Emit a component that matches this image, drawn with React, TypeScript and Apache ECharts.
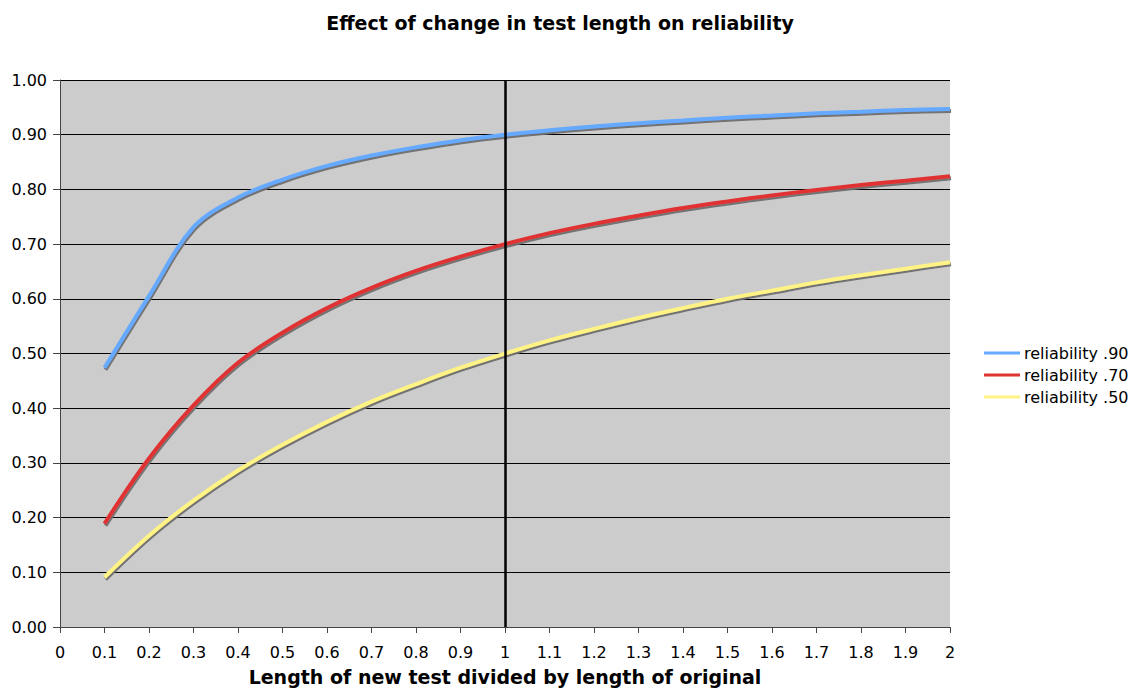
import React, { useEffect, useRef } from "react";
import * as echarts from "echarts";

const categories = ["0", "0.1", "0.2", "0.3", "0.4", "0.5", "0.6", "0.7", "0.8", "0.9", "1", "1.1", "1.2", "1.3", "1.4", "1.5", "1.6", "1.7", "1.8", "1.9", "2"];
const rel90 = [null, 0.474, 0.605, 0.731, 0.785, 0.818, 0.843, 0.862, 0.877, 0.89, 0.9, 0.908, 0.915, 0.921, 0.926, 0.931, 0.935, 0.939, 0.942, 0.945, 0.947];
const rel70 = [null, 0.189, 0.308, 0.405, 0.483, 0.538, 0.583, 0.62, 0.651, 0.677, 0.7, 0.72, 0.737, 0.752, 0.766, 0.778, 0.789, 0.799, 0.808, 0.816, 0.824];
const rel50 = [null, 0.091, 0.167, 0.231, 0.286, 0.333, 0.375, 0.412, 0.444, 0.474, 0.5, 0.524, 0.545, 0.565, 0.583, 0.6, 0.615, 0.63, 0.643, 0.655, 0.667];
const seriesNames = ["reliability .90", "reliability .70", "reliability .50"];
const seriesColors = ["#66AAFF", "#E03333", "#FFF385"];
const markerCategory = "1";

const FONT = "'DejaVu Sans', Verdana, sans-serif";

export default function App() {
  const ref = useRef<HTMLDivElement>(null);
  useEffect(() => {
    const chart = echarts.init(ref.current!, null, { renderer: "svg" });
    const datasets = [rel90, rel70, rel50];
    const series: any[] = datasets.map((d, i) => ({
      name: seriesNames[i],
      type: "line",
      data: d,
      smooth: 0.35,
      showSymbol: false,
      symbol: "none",
      connectNulls: false,
      z: 5 - i,
      lineStyle: {
        color: seriesColors[i],
        width: 4,
        shadowColor: "rgba(110,110,110,0.95)",
        shadowBlur: 0,
        shadowOffsetX: 1,
        shadowOffsetY: 2,
      },
      itemStyle: { color: seriesColors[i] },
      emphasis: { disabled: true },
    }));
    series[0].markLine = {
      silent: true,
      symbol: "none",
      label: { show: false },
      lineStyle: { color: "#000", width: 2.5, type: "solid" },
      data: [{ xAxis: markerCategory }],
      z: 10,
    };
    chart.setOption({
      animation: false,
      backgroundColor: "#fff",
      title: {
        text: "Effect of change in test length on reliability",
        left: 555,
        textAlign: "center",
        top: 8,
        textStyle: { fontFamily: FONT, fontSize: 19, fontWeight: "bold", color: "#000" },
      },
      grid: {
        left: 60, right: 189, top: 80, bottom: 61,
        outerBoundsMode: "none", containLabel: false,
        show: true, backgroundColor: "#CCCCCC", borderWidth: 0,
      },
      legend: {
        orient: "vertical",
        left: 984,
        top: 345,
        padding: 0,
        icon: "rect",
        itemWidth: 36,
        itemHeight: 3,
        itemGap: 6,
        textStyle: { fontFamily: FONT, fontSize: 16, color: "#000", padding: [0, 0, 0, -1] },
        data: seriesNames,
      },
      xAxis: {
        type: "category",
        data: categories,
        boundaryGap: false,
        name: "Length of new test divided by length of original",
        nameLocation: "middle",
        nameGap: 40,
        nameTextStyle: { fontFamily: FONT, fontSize: 19, fontWeight: "bold", color: "#000" },
        axisLine: { lineStyle: { color: "#444", width: 1 } },
        axisTick: { show: true, length: 6, interval: 0, lineStyle: { color: "#444" } },
        axisLabel: { interval: 0, fontFamily: FONT, fontSize: 16, color: "#000", margin: 17 },
        splitLine: { show: false },
      },
      yAxis: {
        type: "value",
        min: 0,
        max: 1,
        interval: 0.1,
        axisLine: { show: true, lineStyle: { color: "#444", width: 1 } },
        axisTick: { show: true, length: 7, lineStyle: { color: "#444" } },
        axisLabel: { fontFamily: FONT, fontSize: 16, color: "#000", margin: 13, formatter: (v: number) => v.toFixed(2) },
        splitLine: { show: true, lineStyle: { color: "#000", width: 1 } },
      },
      series,
    });
    return () => chart.dispose();
  }, []);
  return <div ref={ref} style={{ position: "absolute", left: 0, top: 0, width: 1139, height: 688 }} />;
}
